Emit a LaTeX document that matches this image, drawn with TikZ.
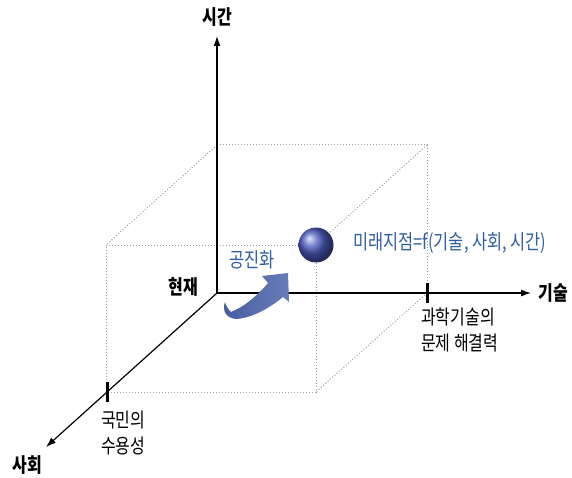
\documentclass[tikz,border=0pt]{standalone}
\usepackage{fontspec}
\setmainfont{Noto Sans CJK KR}[FakeStretch=0.8]
\usetikzlibrary{arrows.meta}
\definecolor{txtblue}{RGB}{46,95,160}
\definecolor{boxgray}{RGB}{160,160,160}
\definecolor{arrowdark}{RGB}{70,92,160}
\definecolor{arrowlight}{RGB}{104,126,186}
\tikzset{
 axis/.style={line width=1.2pt,-{Latex[length=10pt,width=7pt]}},
 boxline/.style={boxgray,dotted,line width=1pt},
 tick/.style={line width=3pt},
 axislabel/.style={font=\fontsize{20}{22}\selectfont\bfseries},
 bluelabel/.style={txtblue,font=\fontsize{20.5}{23}\selectfont},
 notelabel/.style={align=left,anchor=west,inner sep=0pt,font=\fontsize{20}{26}\selectfont}
}
\begin{document}
\begin{tikzpicture}[x=1pt,y=-1pt]
\useasboundingbox (0,0) rectangle (572,478);

% corners of the box
\coordinate (O) at (217,293);
\coordinate (bt) at (217,145);
\coordinate (btr) at (427,145);
\coordinate (bbr) at (427,293);
\coordinate (ftl) at (106,245);
\coordinate (ftr) at (316,245);
\coordinate (fbr) at (316,392);
\coordinate (fbl) at (106,392);

% dotted box
\draw[boxline] (bt) -- (btr) -- (bbr);
\draw[boxline] (ftl) -- (ftr) -- (fbr) -- (fbl) -- cycle;
\draw[boxline] (bt) -- (ftl);
\draw[boxline] (btr) -- (ftr);
\draw[boxline] (bbr) -- (fbr);

% axes
\coordinate (ytip) at (217,36);
\coordinate (xtip) at (531,293);
\coordinate (ztip) at (46,447);
\draw[axis] (O) -- (ytip);
\draw[axis] (O) -- (xtip);
\draw[axis] (O) -- (ztip);

% ticks
\draw[tick] (427,283) -- (427,303);
\draw[tick] (107,382) -- (107,402);

\node[axislabel] (time) at (217,17) {시간};
\node[axislabel, anchor=west] (tech) at (535,293) {기술};
\node[axislabel] (soc) at (27,465) {사회};
\node[axislabel] (now) at (183,287) {현재};

\node[notelabel] (techn) at (421,330) {과학기술의\\문제 해결력};
\node[notelabel] (socn) at (101,433) {국민의\\수용성};

% coevolution arrow
\shade[left color=arrowdark, right color=arrowlight]
 (225,302) .. controls (222,311) and (226,318) .. (236,319)
 .. controls (254,318) and (272,306) .. (283,297)
 -- (289,302) -- (288,273) -- (262,276) -- (268,283)
 .. controls (258,295) and (244,307) .. (231,312)
 .. controls (228,309) and (226,306) .. (225,302) -- cycle;
\node[bluelabel] (coev) at (252,260) {공진화};

% future point
\shade[ball color={rgb,255:red,78;green,94;blue,196}] (ftr) circle (17.5);
\node[bluelabel, anchor=west] (future) at (350,243) {미래지점=f(기술, 사회, 시간)};
\end{tikzpicture}
\end{document}
